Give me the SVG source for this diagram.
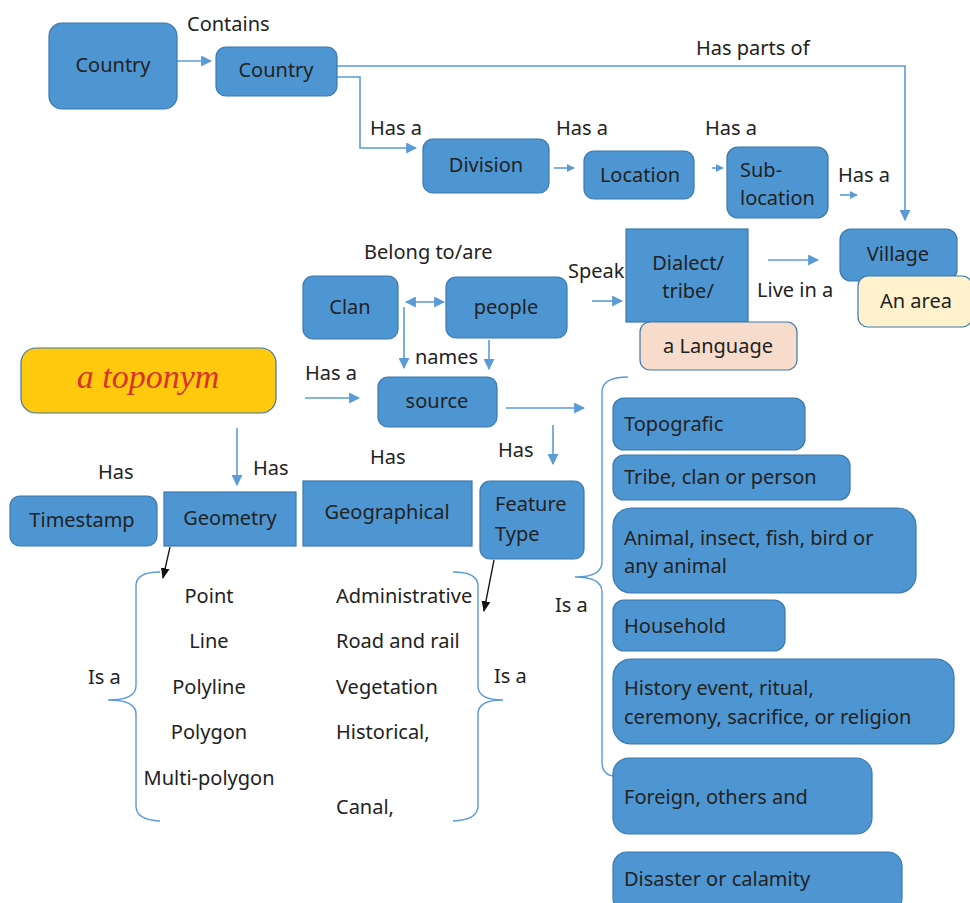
<svg xmlns="http://www.w3.org/2000/svg" width="970" height="903" viewBox="0 0 970 903">
<defs>
<style>
.b{fill:#4E96D1;stroke:#3B78AC;stroke-width:1.2}
.t{font-family:"Noto Sans","Open Sans",sans-serif;font-size:20px;fill:#222}
.c{text-anchor:middle}
.ln{fill:none;stroke:#5B9BD5;stroke-width:1.6}
.bk{fill:none;stroke:#111;stroke-width:1.3}
.br{fill:none;stroke:#5B9BD5;stroke-width:1.4}
</style>
<marker id="a" viewBox="0 0 10 10" refX="9" refY="5" markerWidth="11" markerHeight="11" orient="auto-start-reverse" markerUnits="userSpaceOnUse">
<path d="M0,0 L10,5 L0,10 z" fill="#5B9BD5"/>
</marker>
<marker id="s" viewBox="0 0 10 10" refX="9" refY="5" markerWidth="8" markerHeight="8" orient="auto-start-reverse" markerUnits="userSpaceOnUse">
<path d="M0,0 L10,5 L0,10 z" fill="#5B9BD5"/>
</marker>
<marker id="k" viewBox="0 0 10 10" refX="9" refY="5" markerWidth="11" markerHeight="11" orient="auto" markerUnits="userSpaceOnUse">
<path d="M0,1 L10,5 L0,9 z" fill="#111"/>
</marker>
</defs>
<rect width="970" height="903" fill="#fff"/>

<g id="connectors">
<path class="ln" d="M177,61 H211" marker-end="url(#a)"/>
<path class="ln" d="M337,66 H905 V220" marker-end="url(#a)"/>
<path class="ln" d="M337,77 H360 V148 H416" marker-end="url(#a)"/>
<path class="ln" d="M554,168 H574" marker-end="url(#s)"/>
<path class="ln" d="M712,168 H723" marker-end="url(#s)"/>
<path class="ln" d="M840,195 H857" marker-end="url(#s)"/>
<path class="ln" d="M768,260 H818" marker-end="url(#a)"/>
<path class="ln" d="M592,301 H622" marker-end="url(#a)"/>
<path class="ln" d="M406,302 H444" marker-start="url(#a)" marker-end="url(#a)"/>
<path class="ln" d="M404,307 V368" marker-end="url(#a)"/>
<path class="ln" d="M489,340 V369" marker-end="url(#a)"/>
<path class="ln" d="M305,398 H359" marker-end="url(#a)"/>
<path class="ln" d="M506,408 H584" marker-end="url(#a)"/>
<path class="ln" d="M553,425 V464" marker-end="url(#a)"/>
<path class="ln" d="M237,428 V485" marker-end="url(#a)"/>
<path class="bk" d="M170,547 L163,578" marker-end="url(#k)"/>
<path class="bk" d="M494,560 L484,611" marker-end="url(#k)"/>
<path class="br" d="M160,572 Q136,572 136,586 V686 Q136,700 108,700 Q136,700 136,714 V806 Q136,820 160,821"/>
<path class="br" d="M453,572 Q478,572 478,586 V686 Q478,700 503,700 Q478,700 478,714 V806 Q478,820 453,821"/>
<path class="br" d="M628,377 Q602,377 602,392 V562 Q602,577 575,577 Q602,577 602,592 V762 Q602,775 614,776"/>
</g>

<g id="country1"><rect class="b" x="49" y="23" width="128" height="86" rx="13"/><text class="t c" x="113" y="72">Country</text></g>
<g id="country2"><rect class="b" x="216" y="47" width="121" height="49" rx="10"/><text class="t c" x="276" y="77">Country</text></g>
<g id="division"><rect class="b" x="423" y="139" width="126" height="54" rx="10"/><text class="t c" x="486" y="172">Division</text></g>
<g id="location"><rect class="b" x="584" y="151" width="110" height="48" rx="10"/><text class="t c" x="640" y="182">Location</text></g>
<g id="sublocation"><rect class="b" x="727" y="147" width="101" height="71" rx="11"/><text class="t" x="740" y="177">Sub-</text><text class="t" x="740" y="205">location</text></g>
<g id="village"><rect class="b" x="840" y="229" width="117" height="52" rx="11"/><text class="t c" x="898" y="261">Village</text></g>
<g id="area"><rect x="858" y="276" width="114" height="51" rx="10" fill="#FFF2CC" stroke="#3B78AC" stroke-width="1.2"/><text class="t c" x="916" y="308">An area</text></g>
<g id="dialect"><rect class="b" x="626" y="229" width="122" height="93"/><text class="t c" x="688" y="270">Dialect/</text><text class="t c" x="688" y="298">tribe/</text></g>
<g id="language"><rect x="640" y="322" width="157" height="48" rx="10" fill="#F8DCCB" stroke="#3B78AC" stroke-width="1.2"/><text class="t c" x="718" y="353">a Language</text></g>
<g id="clan"><rect class="b" x="303" y="276" width="95" height="63" rx="10"/><text class="t c" x="350" y="314">Clan</text></g>
<g id="people"><rect class="b" x="446" y="277" width="121" height="61" rx="10"/><text class="t c" x="506" y="314">people</text></g>
<g id="toponym"><rect x="21" y="348" width="255" height="65" rx="15" fill="#FFC90E" stroke="#3B78AC" stroke-width="1.2"/><text x="148" y="388" text-anchor="middle" font-family="'Liberation Serif',serif" font-style="italic" font-size="34" fill="#D8332A">a toponym</text></g>
<g id="source"><rect class="b" x="378" y="377" width="119" height="50" rx="10"/><text class="t c" x="437" y="408">source</text></g>
<g id="timestamp"><rect class="b" x="10" y="496" width="147" height="50" rx="10"/><text class="t c" x="82" y="527">Timestamp</text></g>
<g id="geometry"><rect class="b" x="164" y="492" width="132" height="54"/><text class="t c" x="230" y="525">Geometry</text></g>
<g id="geographical"><rect class="b" x="303" y="481" width="169" height="65"/><text class="t c" x="387" y="519">Geographical</text></g>
<g id="featuretype"><rect class="b" x="480" y="481" width="104" height="78" rx="10"/><text class="t" x="495" y="511">Feature</text><text class="t" x="495" y="541">Type</text></g>

<g id="topografic"><rect class="b" x="613" y="398" width="192" height="52" rx="11"/><text class="t" x="624" y="431">Topografic</text></g>
<g id="tribe"><rect class="b" x="613" y="455" width="237" height="45" rx="11"/><text class="t" x="624" y="484">Tribe, clan or person</text></g>
<g id="animal"><rect class="b" x="613" y="508" width="303" height="85" rx="18"/><text class="t" x="624" y="545">Animal, insect, fish, bird or</text><text class="t" x="624" y="573">any animal</text></g>
<g id="household"><rect class="b" x="613" y="600" width="172" height="51" rx="11"/><text class="t" x="624" y="633">Household</text></g>
<g id="history"><rect class="b" x="613" y="659" width="341" height="85" rx="18"/><text class="t" x="624" y="695">History event, ritual,</text><text class="t" x="624" y="724">ceremony, sacrifice, or religion</text></g>
<g id="foreign"><rect class="b" x="613" y="758" width="259" height="76" rx="16"/><text class="t" x="624" y="804">Foreign, others and</text></g>
<g id="disaster"><rect class="b" x="613" y="852" width="289" height="60" rx="14"/><text class="t" x="624" y="886">Disaster or calamity</text></g>

<g id="labels" class="t">
<text x="187" y="31">Contains</text>
<text x="696" y="55">Has parts of</text>
<text x="370" y="135">Has a</text>
<text x="556" y="135">Has a</text>
<text x="705" y="135">Has a</text>
<text x="838" y="182">Has a</text>
<text x="364" y="259">Belong to/are</text>
<text x="568" y="278">Speak</text>
<text x="757" y="297">Live in a</text>
<text x="415" y="364">names</text>
<text x="305" y="380">Has a</text>
<text x="498" y="457">Has</text>
<text x="253" y="475">Has</text>
<text x="98" y="479">Has</text>
<text x="370" y="464">Has</text>
<text x="88" y="684">Is a</text>
<text x="494" y="683">Is a</text>
<text x="555" y="612">Is a</text>
<text x="209" y="603" text-anchor="middle">Point</text>
<text x="209" y="648" text-anchor="middle">Line</text>
<text x="209" y="694" text-anchor="middle">Polyline</text>
<text x="209" y="739" text-anchor="middle">Polygon</text>
<text x="209" y="785" text-anchor="middle">Multi-polygon</text>
<text x="336" y="603">Administrative</text>
<text x="336" y="648">Road and rail</text>
<text x="336" y="694">Vegetation</text>
<text x="336" y="739">Historical,</text>
<text x="336" y="814">Canal,</text>
</g>
</svg>
